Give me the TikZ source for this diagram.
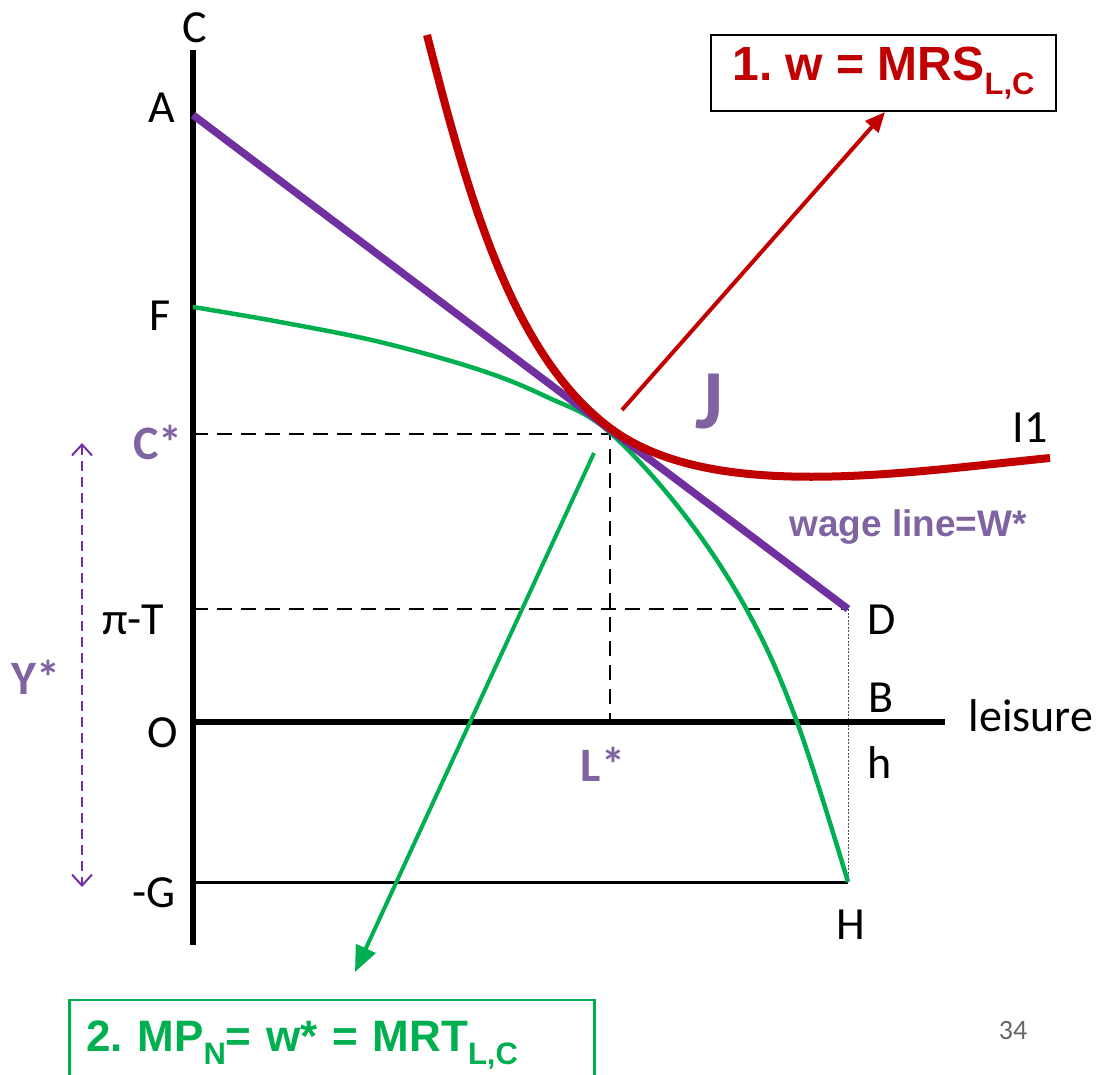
\documentclass[tikz,border=0pt]{standalone}
\usepackage{fontspec}
\setmainfont{Carlito}
\newfontfamily\arialfont{Liberation Sans}
\usetikzlibrary{arrows.meta}
\definecolor{mrsred}{HTML}{C00000}
\definecolor{wagepurple}{HTML}{7030A0}
\definecolor{starpurple}{HTML}{8064A2}
\definecolor{mrtgreen}{HTML}{00B050}
\frenchspacing
\newcommand{\lowsub}[1]{\raisebox{-0.28em}{\fontsize{31}{31}\selectfont #1}}
\tikzset{
  plainlbl/.style={font=\fontsize{46}{48}\selectfont},
  starlbl/.style={font=\fontsize{48}{50}\selectfont\bfseries, text=starpurple},
  guide/.style={line width=2.5pt, dash pattern=on 15pt off 9pt},
  axisline/.style={line width=5.5pt},
  condbox/.style={draw, line width=2.5pt, font=\arialfont\bfseries\fontsize{48}{50}\selectfont},
}

\begin{document}
\begin{tikzpicture}[x=1pt, y=-1pt]
  \useasboundingbox (0,0) rectangle (1105,1075);
  % key points
  \coordinate (Ctop) at (193,50);
  \coordinate (Cbot) at (193,945);
  \coordinate (O) at (193,722);
  \coordinate (Lend) at (945,722);
  \coordinate (A) at (193,115);
  \coordinate (D) at (848,609);
  \coordinate (H) at (848,882);
  \coordinate (Cstar) at (193,434);
  \coordinate (J) at (610,434);
  \coordinate (Lstar) at (610,722);
  \coordinate (PiT) at (193,609);
  \coordinate (G) at (193,882);
  % guides
  \draw[guide] (Cstar) -- (J) -- (Lstar);
  \draw[guide] (PiT) -- (D);
  \draw[line width=1pt, black!70, dash pattern=on 2pt off 1.5pt] (D) -- (H);
  \draw[line width=3pt] (G) -- (H);
  % axes
  \draw[axisline] (Ctop) -- (Cbot);
  \draw[axisline] (O) -- (Lend);
  % production frontier
  \draw[mrtgreen, line width=4.5pt] plot[smooth, tension=0.6] coordinates
    {(193,307) (280,322) (380,342) (480,370) (547,397) (607,430) (683,513) (748,612) (797,722) (848,882)};
  % wage line
  \draw[wagepurple, line width=7.5pt] (A) -- (D);
  % indifference curve I1
  \draw[mrsred, line width=8pt] (427,35) .. controls (467,191) and (510,353) .. (610,428)
    .. controls (710,503) and (900,473) .. (1050,458);
  % condition boxes
  \node[condbox, text=mrsred, minimum width=345pt, minimum height=76pt] (mrsbox) at (883.5,73) {1. w = MRS\lowsub{L,C}};
  \node[condbox, draw=mrtgreen, text=mrtgreen, anchor=west, text width=491pt, align=left,
        inner xsep=17pt, minimum height=90pt, font=\arialfont\bfseries\fontsize{44}{46}\selectfont]
        (mrtbox) at (68,1045) {2. MP\lowsub{N}= w* = MRT\lowsub{L,C}};
  % pointers
  \coordinate (mrsTail) at (622,410);
  \coordinate (mrsHead) at (885,112);
  \coordinate (mrtTail) at (594,453);
  \coordinate (mrtHead) at (355,972);
  \draw[mrsred, line width=4pt, -{Triangle[length=20pt,width=17pt]}] (mrsTail) -- (mrsHead);
  \draw[mrtgreen, line width=4pt, -{Triangle[length=26pt,width=21pt]}] (mrtTail) -- (mrtHead);
  % Y* span
  \coordinate (Ytop) at (82,443);
  \coordinate (Ybot) at (82,887);
  \draw[wagepurple, line width=2pt, dash pattern=on 10pt off 6pt,
        {Straight Barb[length=11pt,width=20pt]}-{Straight Barb[length=11pt,width=20pt]}] (Ytop) -- (Ybot);
  % labels
  \node[plainlbl] (lblC) at (195,28) {C};
  \node[plainlbl] (lblA) at (162,108) {A};
  \node[plainlbl] (lblF) at (160,316) {F};
  \node[starlbl] (lblCstar) at (158,442) {C*};
  \node[plainlbl] (lblPiT) at (133,620) {π-T};
  \node[plainlbl] (lblO) at (163,733) {O};
  \node[plainlbl] (lblG) at (154,893) {-G};
  \node[starlbl] (lblY) at (36,677) {Y*};
  \node[starlbl] (lblLstar) at (603,764) {L*};
  \node[starlbl, font=\fontsize{84}{86}\selectfont\bfseries] (lblJ) at (709,402) {J};
  \node[plainlbl] (lblI) at (1030,428) {I1};
  \node[text=starpurple, font=\arialfont\bfseries\fontsize{37}{39}\selectfont] (lblWage) at (908,527) {wage line=W*};
  \node[plainlbl] (lblD) at (882,620) {D};
  \node[plainlbl] (lblB) at (881,698) {B};
  \node[plainlbl] (lblLeisure) at (1031,716) {leisure};
  \node[plainlbl] (lblh) at (880,763) {h};
  \node[plainlbl] (lblH) at (851,925) {H};
  \node[text=black!60, font=\fontsize{28}{30}\selectfont] (pageno) at (1013,1030) {34};
\end{tikzpicture}
\end{document}
